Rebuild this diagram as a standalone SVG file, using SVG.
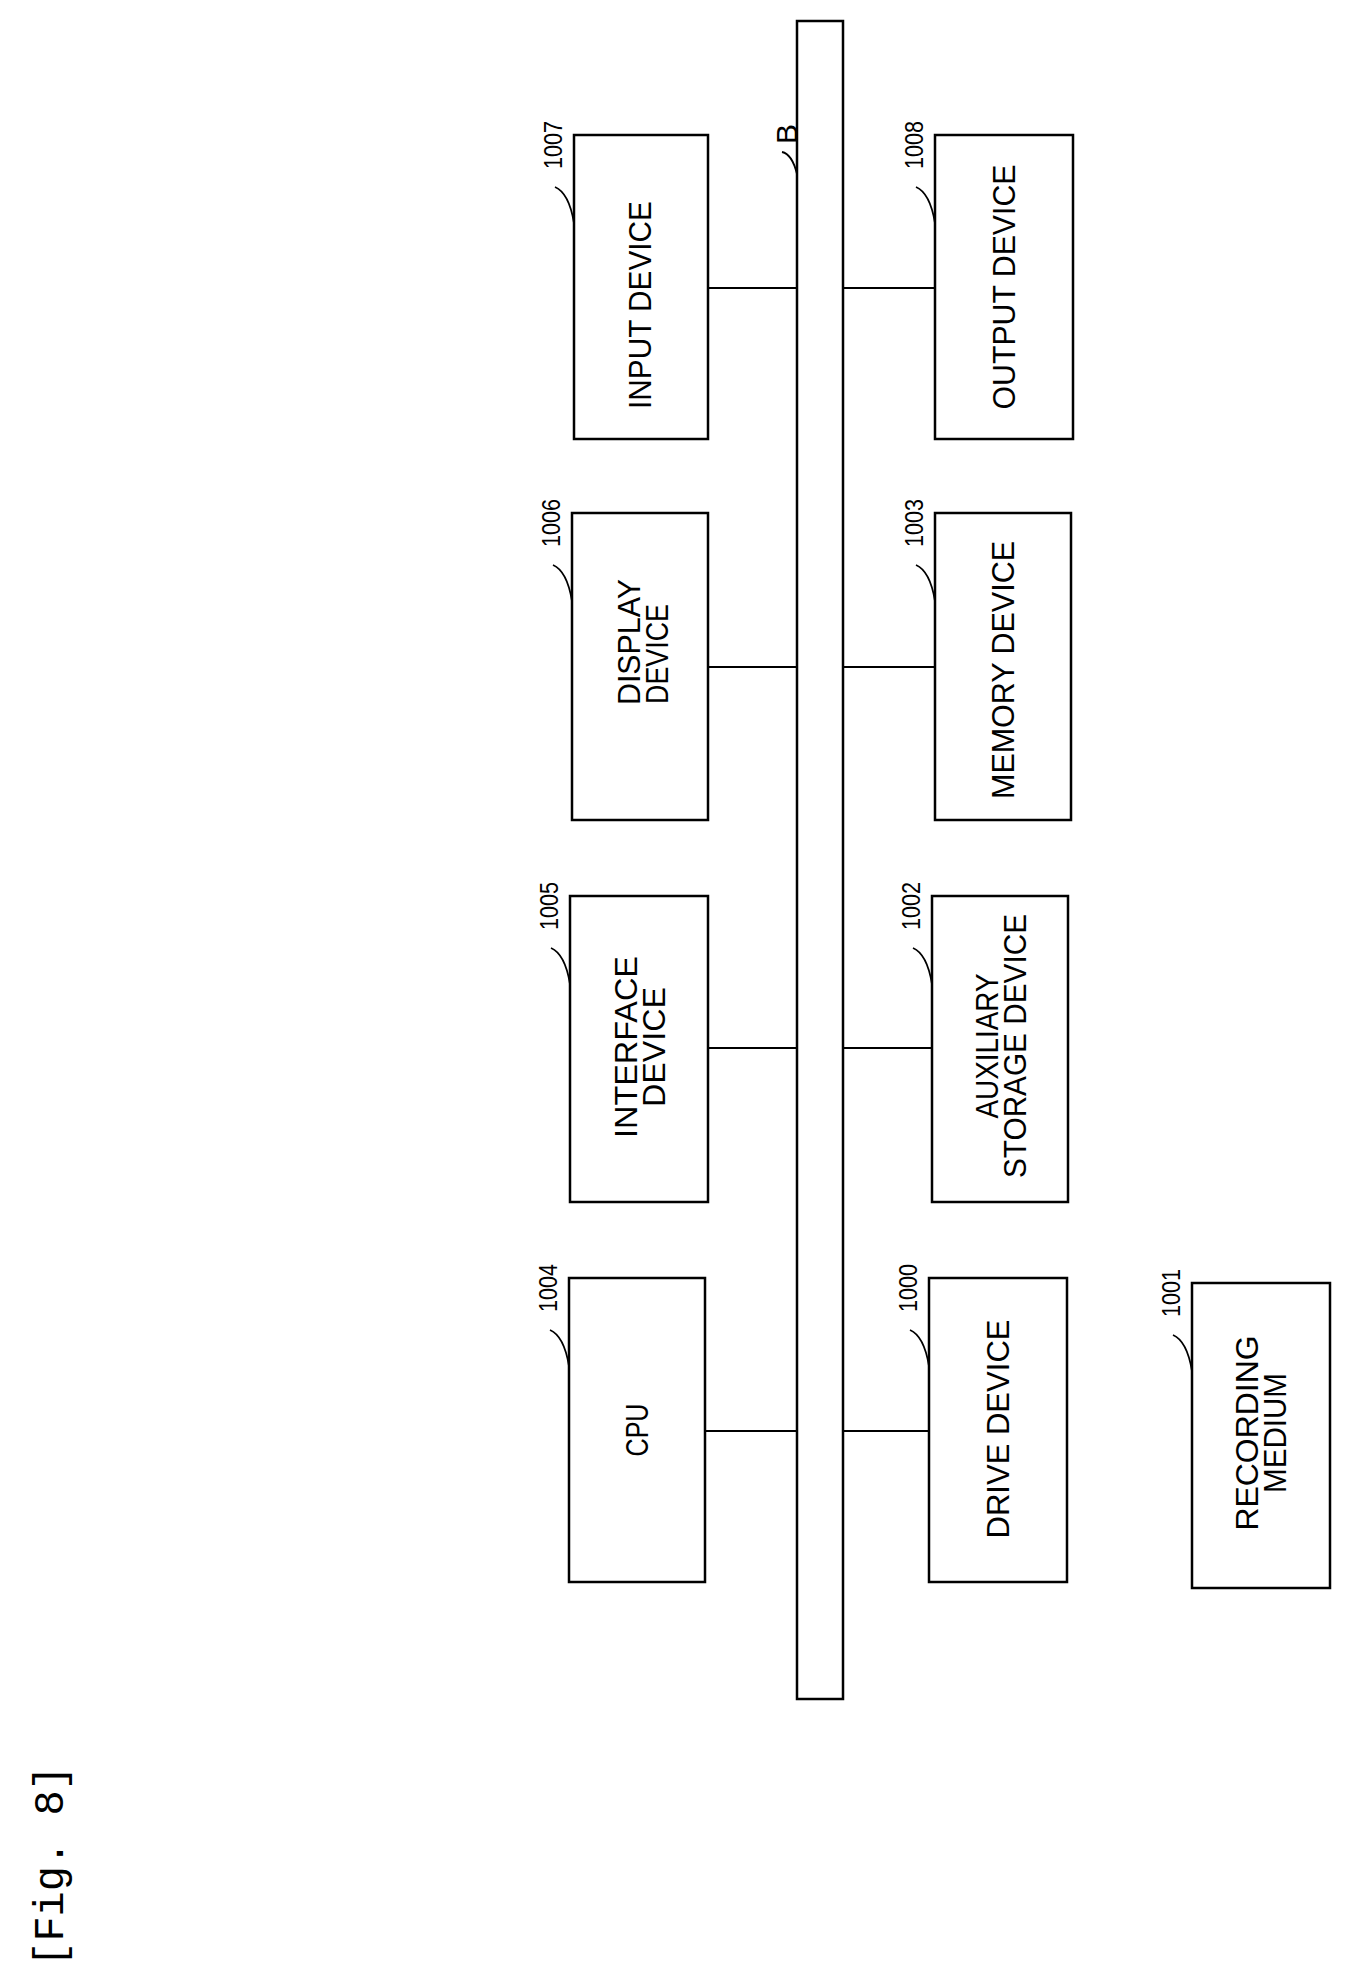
<svg xmlns="http://www.w3.org/2000/svg" width="1359" height="1983" viewBox="0 0 1359 1983">
<style>
.b{fill:#fff;stroke:#000;stroke-width:2.5}
.t{font-family:"Liberation Sans",sans-serif;font-size:31px;text-anchor:middle;dominant-baseline:central}
.n{font-family:"Liberation Sans",sans-serif;font-size:25px;text-anchor:middle;dominant-baseline:central}
.l{fill:none;stroke:#000;stroke-width:1.8}
.c{stroke:#000;stroke-width:2}
</style>
<rect width="1359" height="1983" fill="#fff"/>
<g id="fig"><text x="52" y="1866" transform="rotate(-90 52 1866)" style="font-family:'Liberation Mono',monospace;font-size:42px;text-anchor:middle;dominant-baseline:central">[Fig. 8]</text></g>
<g id="bus"><rect class="b" x="797" y="21" width="46" height="1678"/>
<text class="n" x="786" y="134" transform="rotate(-90 786 134)" style="font-size:30px">B</text>
<path class="l" d="M782,152 q10,2 15,22"/></g>
<g id="connectors">
<line class="c" x1="708" y1="288" x2="797" y2="288"/><line class="c" x1="843" y1="288" x2="935" y2="288"/>
<line class="c" x1="708" y1="667" x2="797" y2="667"/><line class="c" x1="843" y1="667" x2="935" y2="667"/>
<line class="c" x1="708" y1="1048" x2="797" y2="1048"/><line class="c" x1="843" y1="1048" x2="932" y2="1048"/>
<line class="c" x1="705" y1="1431" x2="797" y2="1431"/><line class="c" x1="843" y1="1431" x2="929" y2="1431"/>
</g>
<g id="n1007"><rect class="b" x="574" y="135" width="134" height="304"/><text class="t" x="640" y="305" transform="rotate(-90 640 305)" textLength="208" lengthAdjust="spacingAndGlyphs">INPUT DEVICE</text><text class="n" x="553" y="145" transform="rotate(-90 553 145)" textLength="48" lengthAdjust="spacingAndGlyphs">1007</text><path class="l" d="M555,187 q14,6 19,36"/></g>
<g id="n1008"><rect class="b" x="935" y="135" width="138" height="304"/><text class="t" x="1004" y="287" transform="rotate(-90 1004 287)" textLength="245" lengthAdjust="spacingAndGlyphs">OUTPUT DEVICE</text><text class="n" x="914" y="145" transform="rotate(-90 914 145)" textLength="48" lengthAdjust="spacingAndGlyphs">1008</text><path class="l" d="M916,187 q14,6 19,36"/></g>
<g id="n1006"><rect class="b" x="572" y="513" width="136" height="307"/><text class="t" x="629" y="642" transform="rotate(-90 629 642)" textLength="126" lengthAdjust="spacingAndGlyphs">DISPLAY</text><text class="t" x="657" y="654" transform="rotate(-90 657 654)" textLength="100" lengthAdjust="spacingAndGlyphs">DEVICE</text><text class="n" x="551" y="523" transform="rotate(-90 551 523)" textLength="48" lengthAdjust="spacingAndGlyphs">1006</text><path class="l" d="M553,565 q14,6 19,36"/></g>
<g id="n1003"><rect class="b" x="935" y="513" width="136" height="307"/><text class="t" x="1003" y="670" transform="rotate(-90 1003 670)" textLength="258" lengthAdjust="spacingAndGlyphs">MEMORY DEVICE</text><text class="n" x="914" y="523" transform="rotate(-90 914 523)" textLength="48" lengthAdjust="spacingAndGlyphs">1003</text><path class="l" d="M916,565 q14,6 19,36"/></g>
<g id="n1005"><rect class="b" x="570" y="896" width="138" height="306"/><text class="t" x="626" y="1047" transform="rotate(-90 626 1047)" textLength="182" lengthAdjust="spacingAndGlyphs">INTERFACE</text><text class="t" x="654" y="1047" transform="rotate(-90 654 1047)" textLength="120" lengthAdjust="spacingAndGlyphs">DEVICE</text><text class="n" x="549" y="906" transform="rotate(-90 549 906)" textLength="48" lengthAdjust="spacingAndGlyphs">1005</text><path class="l" d="M551,948 q14,6 19,36"/></g>
<g id="n1002"><rect class="b" x="932" y="896" width="136" height="306"/><text class="t" x="987" y="1046" transform="rotate(-90 987 1046)" textLength="145" lengthAdjust="spacingAndGlyphs">AUXILIARY</text><text class="t" x="1015" y="1046" transform="rotate(-90 1015 1046)" textLength="264" lengthAdjust="spacingAndGlyphs">STORAGE DEVICE</text><text class="n" x="911" y="906" transform="rotate(-90 911 906)" textLength="48" lengthAdjust="spacingAndGlyphs">1002</text><path class="l" d="M913,948 q14,6 19,36"/></g>
<g id="n1004"><rect class="b" x="569" y="1278" width="136" height="304"/><text class="t" x="637" y="1430" transform="rotate(-90 637 1430)" textLength="53" lengthAdjust="spacingAndGlyphs">CPU</text><text class="n" x="548" y="1288" transform="rotate(-90 548 1288)" textLength="48" lengthAdjust="spacingAndGlyphs">1004</text><path class="l" d="M550,1330 q14,6 19,36"/></g>
<g id="n1000"><rect class="b" x="929" y="1278" width="138" height="304"/><text class="t" x="998" y="1429" transform="rotate(-90 998 1429)" textLength="219" lengthAdjust="spacingAndGlyphs">DRIVE DEVICE</text><text class="n" x="908" y="1288" transform="rotate(-90 908 1288)" textLength="48" lengthAdjust="spacingAndGlyphs">1000</text><path class="l" d="M910,1330 q14,6 19,36"/></g>
<g id="n1001"><rect class="b" x="1192" y="1283" width="138" height="305"/><text class="t" x="1247" y="1433" transform="rotate(-90 1247 1433)" textLength="195" lengthAdjust="spacingAndGlyphs">RECORDING</text><text class="t" x="1275" y="1433" transform="rotate(-90 1275 1433)" textLength="120" lengthAdjust="spacingAndGlyphs">MEDIUM</text><text class="n" x="1171" y="1293" transform="rotate(-90 1171 1293)" textLength="48" lengthAdjust="spacingAndGlyphs">1001</text><path class="l" d="M1173,1335 q14,6 19,36"/></g>
</svg>
